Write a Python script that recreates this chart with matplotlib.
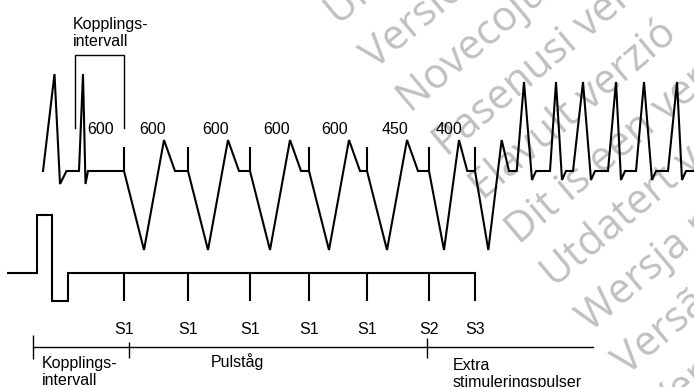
import numpy as np
import matplotlib.pyplot as plt

# --- ECG trace (x in drawing units, amplitude in units above the baseline) ---
sinus_onset = [43, 79]
sinus_peak = [54.5, 83]
sinus_trough = [60, 85.5]
sinus_end = [66.5, 88]
sinus_r, sinus_s = 97, -13

stim_x = [124, 188, 250, 309, 367, 429, 475]
stim_names = ['S1', 'S1', 'S1', 'S1', 'S1', 'S2', 'S3']
intervals = [600, 600, 600, 600, 600, 450, 400]
paced_trough, paced_peak, spike_h = -79, 31, 24

vt_onset = [516.7, 550, 573, 608, 636, 668]
vt_peak = [524, 556, 583, 616, 644, 677]
vt_trough = [532, 562, 591, 621, 652, 682]
vt_r, vt_s = 89, -9

# --- stimulation channel ---
stim_start = 8
pulse_edges = [37, 52, 68]
pulse_amp = [58, -28]
tick_len = 28

# --- time line ---
phase_edges = [33, 129, 427]
phase_end = 593
phase_names = ['Kopplings-\nintervall', 'Pulståg', 'Extra\nstimuleringspulser']

watermarks = ['Úrelt útgáfa', 'Versione obsoleta', 'Novecojusi versija',
              'Pasenusi versija', 'Elavult verzió', 'Dit is een verouderde versie',
              'Utdatert versjon', 'Wersja nieaktualna', 'Versão obsoleta',
              'Versiune depășită']

ecg_y0 = 171
stim_y0 = 273.3
line_y = 347
W, H = 694, 387

fig = plt.figure(figsize=(W / 100, H / 100), dpi=100)
ax = fig.add_axes([0, 0, 1, 1])
ax.set_xlim(0, W)
ax.set_ylim(H, 0)
ax.axis('off')

font = dict(family='Liberation Sans', fontsize=11.5, color='black')
lw_thick = 1.5
lw_thin = 1.0

# watermarks
for k, txt in enumerate(watermarks):
    ax.text(339 + 36 * k, 26 + 43.8 * k, txt, rotation=40, rotation_mode='anchor',
            ha='left', va='baseline', family='Open Sans', fontsize=30,
            color='#c0c0c0', zorder=0)

# build ECG polyline
xs, ys = [], []
for on, pk, tr, en in zip(sinus_onset, sinus_peak, sinus_trough, sinus_end):
    xs += [on, pk, tr, en]
    ys += [0, sinus_r, sinus_s, 0]
for s, iv in zip(stim_x, intervals):
    k = iv / 600
    xs += [s, s + 20 * k, s + 40 * k, s + 51 * k]
    ys += [0, paced_trough, paced_peak, 0]
for on, pk, tr in zip(vt_onset, vt_peak, vt_trough):
    xs += [on, pk, tr, tr + 4]
    ys += [0, vt_r, vt_s, 0]
xs.append(W)
ys.append(0)
ax.plot(xs, ecg_y0 - np.array(ys), color='black', lw=lw_thick,
        solid_joinstyle='miter', zorder=3)
ax.vlines(stim_x, ecg_y0, ecg_y0 - spike_h, color='black', lw=lw_thick, zorder=3)

# stimulation channel
sx = [stim_start, pulse_edges[0], pulse_edges[0], pulse_edges[1], pulse_edges[1],
      pulse_edges[2], pulse_edges[2], stim_x[-1]]
sy = [0, 0, pulse_amp[0], pulse_amp[0], pulse_amp[1], pulse_amp[1], 0, 0]
ax.plot(sx, stim_y0 - np.array(sy), color='black', lw=lw_thick,
        solid_joinstyle='miter', zorder=3)
ax.vlines(stim_x, stim_y0, stim_y0 + tick_len, color='black', lw=lw_thick, zorder=3)
for s, name in zip(stim_x, stim_names):
    ax.text(s, 333.5, name, ha='center', va='baseline', **font)

# interval labels
prev = [sinus_peak[-1]] + stim_x[:-1]
for p, s, iv in zip(prev, stim_x, intervals):
    ax.text((p + s) / 2 - 3, 134, str(iv), ha='center', va='baseline', **font)

# coupling interval bracket
ax.plot([75, 75, stim_x[0], stim_x[0]], [128, 54.5, 54.5, 128], color='black',
        lw=lw_thin, zorder=3)
ax.text(72.7, 46.5, 'Kopplings-\nintervall', ha='left', va='baseline',
        linespacing=1.2, **font)

# time line
ax.plot([phase_edges[0], phase_end], [line_y, line_y], color='black', lw=lw_thin)
ax.vlines(phase_edges, [335, 341.5, 338], [359, 358, 358], color='black', lw=lw_thin)
for x0, y0, name in zip([41.7, 211, 452.3], [385, 366.8, 386.5], phase_names):
    ax.text(x0, y0, name, ha='left', va='baseline', linespacing=1.15, **font)

fig.savefig('out.png', dpi=100)
